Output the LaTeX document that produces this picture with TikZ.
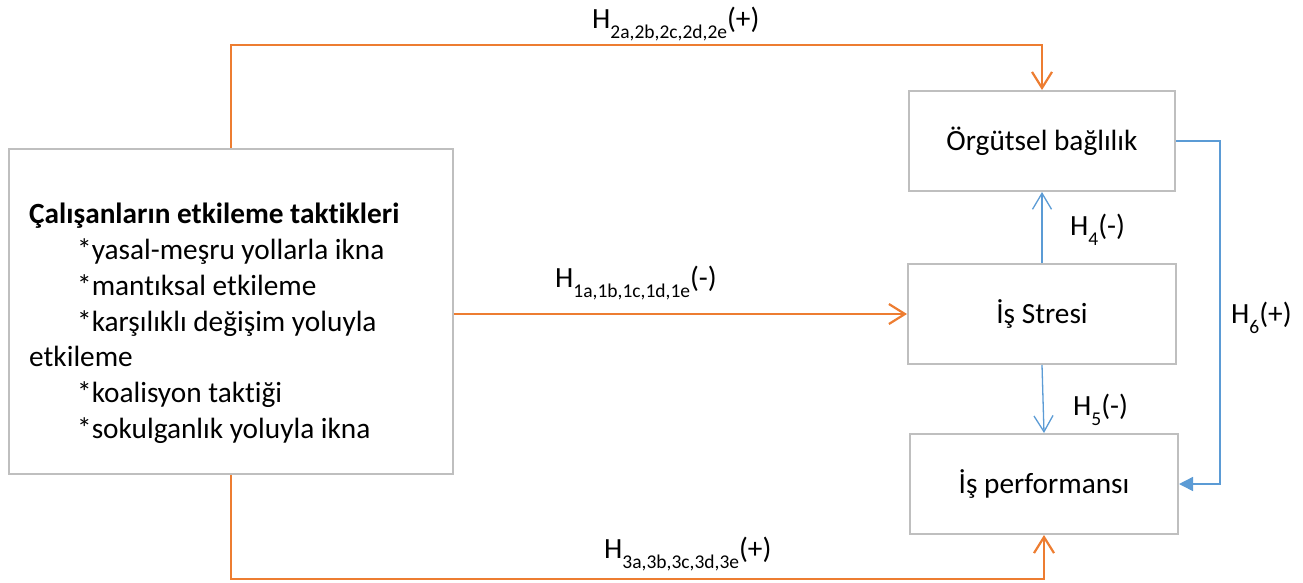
\documentclass[tikz,border=0pt]{standalone}
\usepackage{fontspec}
\setmainfont{Carlito}[Ligatures={NoCommon,NoContextual}]
\usetikzlibrary{arrows.meta}

\definecolor{accentorange}{HTML}{ED7D31}
\definecolor{accentblue}{HTML}{5B9BD5}
\definecolor{boxgray}{HTML}{BFBFBF}

% hypothesis label: H with a lowered, smaller index and a sign
\newcommand\hyplabel[2]{H\raisebox{-10pt}{\fontsize{19.5}{19.5}\selectfont #1}#2}

\tikzset{
  every node/.style={font=\fontsize{29.3}{35.8}\selectfont, inner sep=0pt},
  varbox/.style={draw=boxgray, line width=2pt, fill=white},
  txtline/.style={anchor=base west},
  hyp/.style={anchor=base west},
  orangelink/.style={draw=accentorange, line width=2.5pt,
    -{Straight Barb[length=16pt,width=20pt,line width=2.2pt]}},
  bluelink/.style={draw=accentblue, line width=1.3pt,
    -{Straight Barb[length=16pt,width=19pt,line width=1.3pt]}},
  bluefilled/.style={draw=accentblue, line width=1.5pt,
    -{Triangle[length=14pt,width=14pt]}},
}

\begin{document}
\begin{tikzpicture}[x=1pt,y=-1pt]
  \useasboundingbox (0,0) rectangle (1303,582);

  % boxes
  \node[varbox, minimum width=444pt, minimum height=325pt] (tactics) at (231,311.5) {};
  \node[varbox, minimum width=266pt, minimum height=100pt] (org) at (1042,141) {Örgütsel bağlılık};
  \node[varbox, minimum width=268pt, minimum height=100pt] (stress) at (1042,314) {İş Stresi};
  \node[varbox, minimum width=268pt, minimum height=100pt] (perf) at (1044,484) {İş performansı};

  % contents of the tactics box
  \node[txtline] (t0) at (29,223) {\bfseries Çalışanların etkileme taktikleri};
  \node[txtline] (t1) at (77,259) {*yasal-meşru yollarla ikna};
  \node[txtline] (t2) at (77,295) {*mantıksal etkileme};
  \node[txtline] (t3) at (77,331) {*karşılıklı değişim yoluyla};
  \node[txtline] (t4) at (29,366) {etkileme};
  \node[txtline] (t5) at (77,402) {*koalisyon taktiği};
  \node[txtline] (t6) at (77,438) {*sokulganlık yoluyla ikna};

  % orange links from the tactics box
  \draw[orangelink] (tactics.north) -- (tactics.north |- 0,45) -| (org.north);
  \draw[orangelink] (tactics.east |- stress.west) -- (stress.west);
  \draw[orangelink] (tactics.south) -- (tactics.south |- 0,579) -| (perf.south);

  % blue links between the outcome boxes
  \draw[bluelink] (stress.north) -- (org.south);
  \draw[bluelink] (stress.south) -- (perf.north);
  \draw[bluefilled] (org.east) -| (perf.east -| 1220,0) -- (perf.east);

  % hypothesis labels
  \node[hyp] (h2) at (592,28) {\hyplabel{2a,2b,2c,2d,2e}{(+)}};
  \node[hyp] (h1) at (555,287) {\hyplabel{1a,1b,1c,1d,1e}{(-)}};
  \node[hyp] (h3) at (604,558) {\hyplabel{3a,3b,3c,3d,3e}{(+)}};
  \node[hyp] (h4) at (1070,235) {\hyplabel{4}{(-)}};
  \node[hyp] (h5) at (1073,415) {\hyplabel{5}{(-)}};
  \node[hyp] (h6) at (1231,323) {\hyplabel{6}{(+)}};
\end{tikzpicture}
\end{document}
